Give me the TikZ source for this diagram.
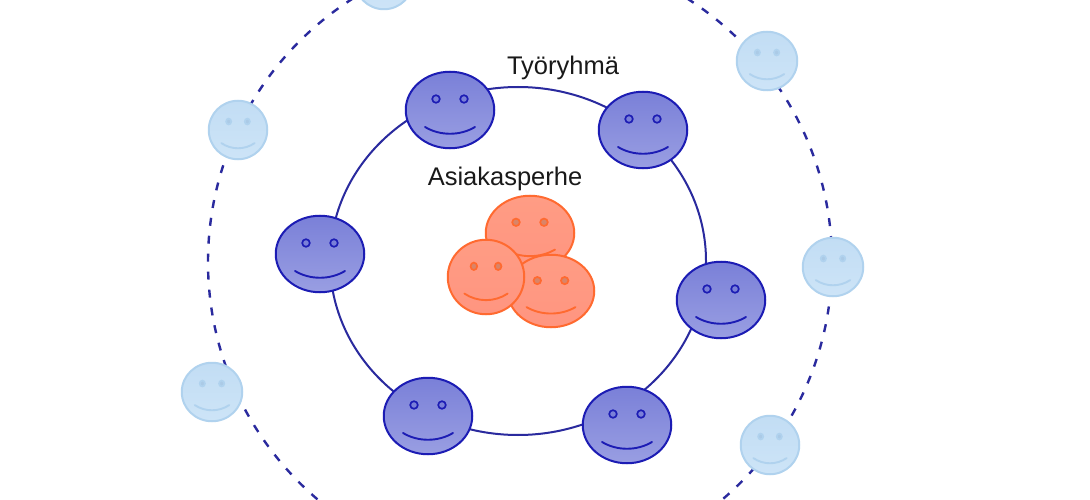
\documentclass[tikz,border=0pt]{standalone}
\usepackage{fontspec}
\setmainfont{Liberation Sans}
\usetikzlibrary{shapes.geometric}
\definecolor{ringc}{HTML}{2A2A9E}
\definecolor{bluee}{HTML}{1C1CB4}
\definecolor{bluet}{HTML}{7A80D8}
\definecolor{blueb}{HTML}{999EE2}
\definecolor{orae}{HTML}{FF6A30}
\definecolor{orat}{HTML}{FF9C84}
\definecolor{orab}{HTML}{FF9580}
\definecolor{orai}{HTML}{D98468}
\definecolor{lighte}{HTML}{B0D2EE}
\definecolor{lightt}{HTML}{C2DDF4}
\definecolor{lightb}{HTML}{CDE4F7}
\definecolor{lighti}{HTML}{ABCAE6}
\tikzset{
  facebody/.style={ellipse,inner sep=0pt,line width=2pt},
  blueface/.style={facebody,draw=bluee,top color=bluet,bottom color=blueb},
  orangeface/.style={facebody,draw=orae,top color=orat,bottom color=orab},
  lightface/.style={facebody,draw=lighte,top color=lightt,bottom color=lightb},
  lbl/.style={font=\fontsize{25.5}{30}\selectfont,text=black!90,inner sep=0pt},
  ringsolid/.style={ellipse,draw=ringc,line width=2pt,inner sep=0pt},
  ringdash/.style={ellipse,draw=ringc,line width=2.4pt,dash pattern=on 8pt off 10pt,inner sep=0pt}
}
% name, x, y, rx, ry, style, edge colour, eye fill
\newcommand{\smileyface}[8]{%
  \node[#6,minimum width=#4*2pt-1.5pt,minimum height=#5*2pt-1.5pt] (#1) at (#2,#3) {};
  \begin{scope}[shift={(#1.center)},xscale=#4/45,yscale=#5/39]
    \draw[#7,line width=1.7pt,fill=#8] (-14,-11) circle[radius=3.8];
    \draw[#7,line width=1.7pt,fill=#8] (14,-11) circle[radius=3.8];
    \draw[#7,line width=1.9pt,line cap=round] (-25,17) .. controls (-10,26) and (10,26) .. (25,17);
  \end{scope}}
\begin{document}
\begin{tikzpicture}[x=1pt,y=-1pt]
\useasboundingbox (0,0) rectangle (1090,500);
\clip (0,0) rectangle (1090,500);
\fill[white] (0,0) rectangle (1090,500);
\node[ringdash,minimum width=624pt,minimum height=624pt] (outerring) at (520,262) {};
\node[ringsolid,minimum width=376pt,minimum height=348pt] (innerring) at (518,261) {};
\smileyface{a}{450}{110}{45}{39}{blueface}{bluee}{bluet}
\smileyface{b}{643}{130}{45}{39}{blueface}{bluee}{bluet}
\smileyface{c}{320}{254}{45}{39}{blueface}{bluee}{bluet}
\smileyface{d}{721}{300}{45}{39}{blueface}{bluee}{bluet}
\smileyface{e}{428}{416}{45}{39}{blueface}{bluee}{bluet}
\smileyface{f}{627}{425}{45}{39}{blueface}{bluee}{bluet}
\smileyface{l1}{238}{130}{30}{30}{lightface}{lighte}{lighti}
\smileyface{l2}{767}{61}{31}{30}{lightface}{lighte}{lighti}
\smileyface{l3}{833}{267}{31}{30}{lightface}{lighte}{lighti}
\smileyface{l4}{212}{392}{31}{30}{lightface}{lighte}{lighti}
\smileyface{l5}{770}{445}{30}{30}{lightface}{lighte}{lighti}
\smileyface{l6}{384}{-20}{30}{30}{lightface}{lighte}{lighti}
\smileyface{o1}{530}{233}{45}{38}{orangeface}{orae}{orai}
\smileyface{o2}{551}{291}{44}{37}{orangeface}{orae}{orai}
\smileyface{o3}{486}{277}{39}{38}{orangeface}{orae}{orai}
\node[lbl] (t1) at (563,68) {Työryhmä};
\node[lbl] (t2) at (505,179) {Asiakasperhe};
\end{tikzpicture}
\end{document}
